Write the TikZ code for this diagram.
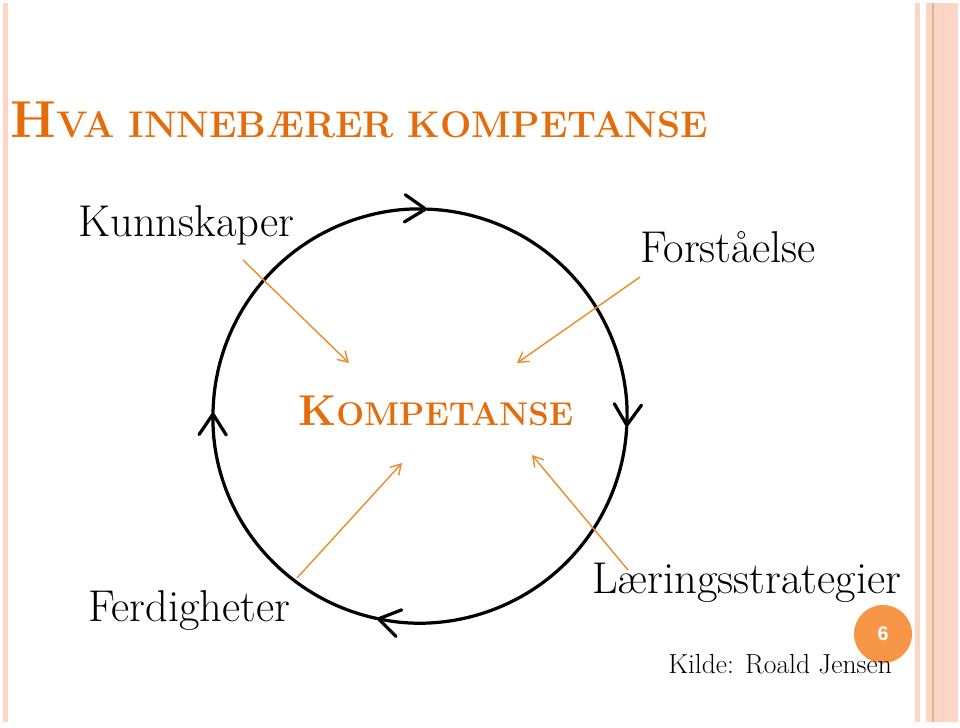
\documentclass[tikz,border=0pt]{standalone}
\usepackage{fontspec}
\usepackage{tikz}
\usepackage{xcolor}
\usetikzlibrary{arrows.meta}
\newfontfamily\pagefont{Liberation Sans}
\definecolor{headorange}{RGB}{228,108,10}
\definecolor{feedorange}{RGB}{236,140,40}
\definecolor{dotorange}{RGB}{247,150,70}
\definecolor{barpeach}{RGB}{251,214,196}
\definecolor{barline}{RGB}{232,176,146}

\begin{document}
\begin{tikzpicture}[x=0.025cm,y=-0.025cm,
    word/.style={anchor=base west,inner sep=0pt,font=\fontsize{31.7}{38}\selectfont},
    ringline/.style={line width=2.3pt,line cap=round,line join=round,
      -{Straight Barb[length=0.52cm,width=0.68cm,round]}},
    feed/.style={draw=feedorange,line width=1pt,
      -{Straight Barb[length=0.25cm,width=0.3cm]}},
    numdot/.style={circle,fill=dotorange,minimum size=1.45cm,inner sep=0pt,
      text=white,font=\pagefont\bfseries\fontsize{14}{16}\selectfont}]
  \useasboundingbox (0,0) rectangle (960,728);
  % side bars
  \fill[barpeach] (3,3) rectangle (8,722);
  \fill[barpeach] (915,3) rectangle (920,722);
  \fill[barpeach] (926,3) rectangle (958,722);
  \draw[barline,line width=0.8pt] (933,3) -- (933,722);
  \draw[barline!60,line width=0.6pt] (942,3) -- (942,722);

  \node (head) [anchor=base west,inner sep=0pt,text=headorange] at (10,138)
    {\bfseries\fontsize{37}{41}\selectfont H\fontsize{26.4}{31}\selectfont VA INNEBÆRER KOMPETANSE};

  % the ring
  \coordinate (ring) at (420,416);
  \draw[ringline] (ring) ++(-88:207) arc[start angle=-88, end angle=3, radius=207];
  \draw[ringline] (ring) ++(3:207) arc[start angle=3, end angle=102, radius=207];
  \draw[ringline] (ring) ++(102:207) arc[start angle=102, end angle=181, radius=207];
  \draw[ringline] (ring) ++(181:207) arc[start angle=181, end angle=272, radius=207];

  \node (komp) [anchor=base west,inner sep=0pt,text=headorange] at (298,425)
    {\bfseries\fontsize{30.7}{35}\selectfont K\fontsize{23.4}{27}\selectfont OMPETANSE};
  \node (kunn) [word] at (78,237) {Kunnskaper};
  \node (forst) [word] at (640,263) {Forståelse};
  \node (ferd) [word] at (88,621) {Ferdigheter};
  \node (laer) [word] at (592,593) {Læringsstrategier};
  \node (pg) [numdot] at (883,634) {6};
  \node (kilde) [word,font=\fontsize{19.6}{23}\selectfont] at (668,673) {Kilde: Roald Jensen};

  \path (node cs:name=kunn,anchor=base west) +(165,23) coordinate (kunno) {};
  \path (node cs:name=komp,anchor=base west) +(51,-62) coordinate (kunni) {};
  \draw[feed] (kunno) -- (kunni);
  \path (node cs:name=forst,anchor=base west) +(0,14) coordinate (forsto) {};
  \path (node cs:name=komp,anchor=base west) +(219,-62) coordinate (forsti) {};
  \draw[feed] (forsto) -- (forsti);
  \path (node cs:name=ferd,anchor=base west) +(209,-43) coordinate (ferdo) {};
  \path (node cs:name=komp,anchor=base west) +(104,38) coordinate (ferdi) {};
  \draw[feed] (ferdo) -- (ferdi);
  \path (node cs:name=laer,anchor=base west) +(36,-23) coordinate (laero) {};
  \path (node cs:name=komp,anchor=base west) +(234,30) coordinate (laeri) {};
  \draw[feed] (laero) -- (laeri);
\end{tikzpicture}
\end{document}
